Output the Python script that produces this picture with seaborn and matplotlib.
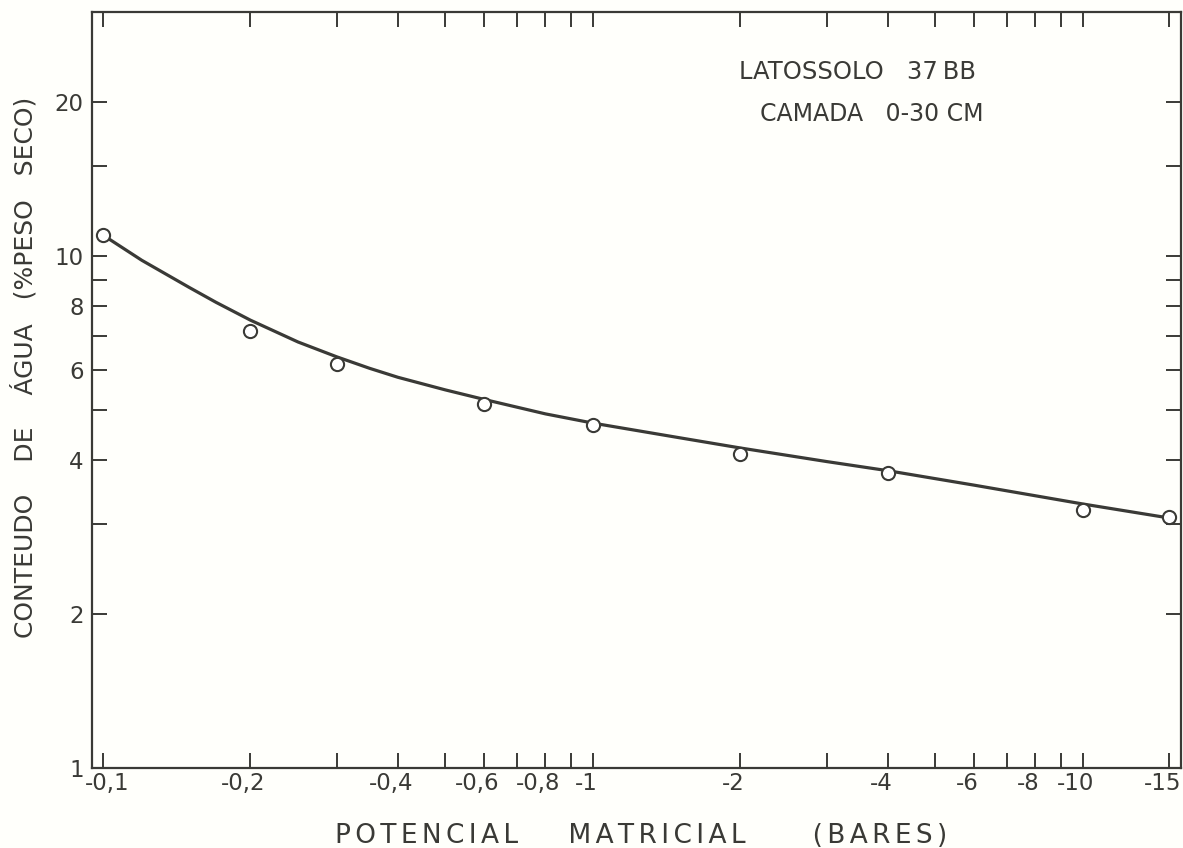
import numpy as np
import pandas as pd
import matplotlib
matplotlib.use('Agg')
import matplotlib.pyplot as plt
import matplotlib.ticker as ticker
from matplotlib.transforms import ScaledTranslation
import seaborn as sns

# measured points (potential in bars, water content in % dry weight)
potencial = [-0.1, -0.2, -0.3, -0.6, -1, -2, -4, -10, -15]
umidade = [11.0, 7.15, 6.15, 5.15, 4.68, 4.1, 3.77, 3.19, 3.09]

# hand-drawn fitted curve
curva_pot = [-0.1, -0.12, -0.15, -0.17, -0.2, -0.25, -0.3, -0.35, -0.4, -0.5, -0.6,
             -0.8, -1, -1.5, -2, -3, -4, -6, -10, -15]
curva_um = [11.0, 9.82, 8.69, 8.13, 7.5, 6.8, 6.36, 6.04, 5.8, 5.48, 5.25,
            4.92, 4.72, 4.42, 4.22, 3.97, 3.81, 3.57, 3.28, 3.08]

x_ticks = [0.1, 0.2, 0.3, 0.4, 0.5, 0.6, 0.7, 0.8, 0.9, 1, 2, 3, 4, 5, 6, 7, 8, 9, 10, 15]
x_labels = ['-0,1', '-0,2', '', '-0,4', '', '-0,6', '', '-0,8', '', '-1', '-2', '',
            '-4', '', '-6', '', '-8', '', '-10', '-15']
y_ticks = [1, 2, 3, 4, 5, 6, 7, 8, 9, 10, 15, 20]
y_labels = ['1', '2', '', '4', '', '6', '', '8', '', '10', '', '20']

INK = '#3a3a36'
PAPER = '#fffffb'

sns.set_style('ticks')
plt.rcParams['font.family'] = ['DejaVu Sans']


def tracked(words, gaps, sep='\u2006'):
    # lettering-template look: extra space between letters, wide word gaps
    out = sep.join(words[0])
    for g, w in zip(gaps, words[1:]):
        out += ' ' * g + sep.join(w)
    return out


df_pts = pd.DataFrame({'pot': np.abs(potencial), 'um': umidade})
df_cur = pd.DataFrame({'pot': np.abs(curva_pot), 'um': curva_um})

fig = plt.figure(figsize=(11.83, 8.48), dpi=100, facecolor=PAPER)
ax = fig.add_axes([0.0778, 0.0943, 0.9205, 0.8915], facecolor=PAPER)

sns.lineplot(data=df_cur, x='pot', y='um', ax=ax, color=INK, linewidth=2.3,
             sort=False, estimator=None, zorder=2)
sns.scatterplot(data=df_pts, x='pot', y='um', ax=ax, marker='o', s=90,
                facecolor='white', edgecolor=INK, linewidth=1.5, zorder=3)

ax.set_xscale('log')
ax.set_yscale('log')
ax.set_xlim(0.095, 15.85)
ax.set_ylim(1, 30)

ax.xaxis.set_major_locator(ticker.FixedLocator(x_ticks))
ax.xaxis.set_major_formatter(ticker.FixedFormatter(x_labels))
ax.xaxis.set_minor_locator(ticker.NullLocator())
ax.yaxis.set_major_locator(ticker.FixedLocator(y_ticks))
ax.yaxis.set_major_formatter(ticker.FixedFormatter(y_labels))
ax.yaxis.set_minor_locator(ticker.NullLocator())

ax.tick_params(axis='both', which='major', direction='in', top=True, right=True,
               length=11, width=1.4, color=INK, labelcolor=INK, labelsize=16.5)
ax.tick_params(axis='x', pad=3)
ax.tick_params(axis='y', pad=6)
for sp in ax.spines.values():
    sp.set_linewidth(1.6)
    sp.set_color(INK)

# the hand-lettered labels sit a bit left of their ticks (first one right)
for t, lab in zip(ax.xaxis.get_major_ticks(), x_labels):
    dx = 4 if lab == '-0,1' else -7
    t.label1.set_transform(t.label1.get_transform()
                           + ScaledTranslation(dx / 100, 0, fig.dpi_scale_trans))

ax.set_xlabel(tracked(['POTENCIAL', 'MATRICIAL', '(BARES)'], [6, 8]),
              fontsize=19, color=INK)
ax.set_ylabel('CONTEUDO    DE    ÁGUA   (%PESO   SECO)', fontsize=18, color=INK)
ax.xaxis.set_label_coords(0.504, -0.073)
ax.yaxis.set_label_coords(-0.0505, 0.53)

ax.text(0.594, 0.921, 'LATOSSOLO   37\u2009BB', transform=ax.transAxes, fontsize=17.5,
        color=INK, va='center', ha='left')
ax.text(0.613, 0.865, 'CAMADA   0-30 CM', transform=ax.transAxes, fontsize=17,
        color=INK, va='center', ha='left')

fig.savefig('out.png', dpi=100, facecolor=PAPER)
